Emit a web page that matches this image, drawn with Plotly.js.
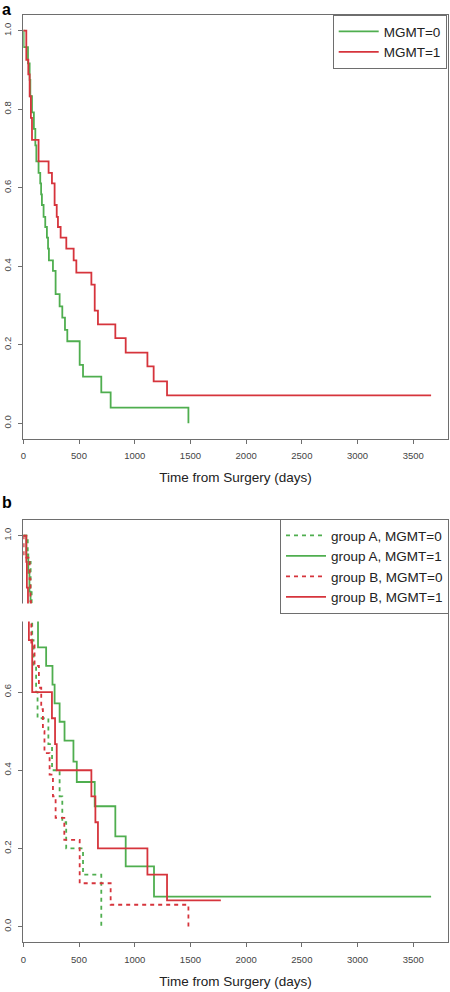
<!DOCTYPE html>
<html><head><meta charset="utf-8">
<script src="https://cdn.plot.ly/plotly-3.0.1.min.js"></script>
<style>html,body{margin:0;padding:0;background:#fff}#chart{width:450px;height:992px}</style>
</head><body><div id="chart"></div>
<script>
// ---- tick definitions ----
const xTicks = [0, 500, 1000, 1500, 2000, 2500, 3000, 3500];
const yTicks = [0, 0.2, 0.4, 0.6, 0.8, 1.0];
const yTickText = ['0.0', '0.2', '0.4', '0.6', '0.8', '1.0'];
const xTitle = 'Time from Surgery (days)';
const panelLabels = ['a', 'b'];

// ---- panel a ----
const namesA = ['MGMT=0', 'MGMT=1'];
const timeA_M0 = [0, 3, 42, 57, 63, 78, 95, 108, 117, 137, 152, 160, 167, 182, 197, 212, 222, 230, 266, 290, 326, 350, 374, 395, 506, 536, 700, 784, 1482];
const survA_M0 = [1, 0.958, 0.917, 0.875, 0.833, 0.792, 0.75, 0.708, 0.667, 0.638, 0.611, 0.583, 0.556, 0.526, 0.5, 0.473, 0.445, 0.415, 0.388, 0.329, 0.298, 0.269, 0.238, 0.209, 0.149, 0.119, 0.079, 0.040, 0];
const timeA_M1 = [0, 27, 45, 57, 68, 78, 137, 227, 257, 281, 300, 311, 335, 386, 452, 476, 611, 641, 670, 826, 919, 1114, 1170, 1290, 3660];
const survA_M1 = [1, 0.926, 0.889, 0.833, 0.778, 0.722, 0.667, 0.638, 0.611, 0.556, 0.526, 0.5, 0.473, 0.445, 0.415, 0.384, 0.353, 0.287, 0.252, 0.217, 0.180, 0.145, 0.107, 0.071, 0.071];

// ---- panel b ----
const namesB = ['group A, MGMT=0', 'group A, MGMT=1', 'group B, MGMT=0', 'group B, MGMT=1'];
const timeB_A0 = [0, 40, 66, 75, 80, 92, 115, 128, 225, 258, 326, 350, 385, 536, 700];
const survB_A0 = [1, 0.933, 0.867, 0.8, 0.733, 0.667, 0.6, 0.533, 0.467, 0.4, 0.333, 0.267, 0.2, 0.133, 0];
const timeB_A1 = [0, 27, 45, 55, 65, 132, 205, 262, 281, 326, 370, 450, 480, 641, 826, 919, 1173, 3660];
const survB_A1 = [1, 0.952, 0.905, 0.857, 0.8, 0.714, 0.667, 0.619, 0.571, 0.524, 0.476, 0.422, 0.37, 0.308, 0.231, 0.154, 0.077, 0.077];
const timeB_B0 = [0, 3, 57, 64, 68, 72, 101, 140, 161, 176, 190, 236, 266, 290, 368, 506, 784, 1482];
const survB_B0 = [1, 0.944, 0.889, 0.833, 0.778, 0.722, 0.667, 0.611, 0.556, 0.5, 0.444, 0.389, 0.333, 0.278, 0.222, 0.111, 0.056, 0];
const timeB_B1 = [0, 27, 32, 42, 50, 80, 257, 285, 300, 611, 647, 670, 1114, 1290, 1773];
const survB_B1 = [1, 0.933, 0.867, 0.8, 0.733, 0.6, 0.533, 0.467, 0.4, 0.333, 0.267, 0.2, 0.133, 0.067, 0.067];

const GREEN = '#4fae4f', RED = '#d6343c';
const FONT = 'Liberation Sans, Arial, Helvetica, sans-serif';
const W = 450, H = 992;

function step(x, y, name, color, dash, xa, ya, leg) {
  return {x: x, y: y, name: name, type: 'scatter', mode: 'lines',
    line: {shape: 'hv', color: color, width: 1.8, dash: dash},
    xaxis: xa, yaxis: ya, legend: leg, hoverinfo: 'skip'};
}

const traces = [
  step(timeA_M0, survA_M0, namesA[0], GREEN, 'solid', 'x', 'y', 'legend'),
  step(timeA_M1, survA_M1, namesA[1], RED, 'solid', 'x', 'y', 'legend'),
  step(timeB_A0, survB_A0, namesB[0], GREEN, '4px,4px', 'x2', 'y2', 'legend2'),
  step(timeB_A1, survB_A1, namesB[1], GREEN, 'solid', 'x2', 'y2', 'legend2'),
  step(timeB_B0, survB_B0, namesB[2], RED, '4px,4px', 'x2', 'y2', 'legend2'),
  step(timeB_B1, survB_B1, namesB[3], RED, 'solid', 'x2', 'y2', 'legend2')
];

const axisBase = {
  showline: true, mirror: true, linecolor: '#6e6e6e', linewidth: 1,
  ticks: 'outside', ticklen: 4, tickcolor: '#6e6e6e', tickwidth: 1,
  showgrid: false, zeroline: false, automargin: false,
  tickfont: {family: FONT, size: 9.5, color: '#444'}
};
const xDomain = [23.3 / W, 447.7 / W];
function xAxis(anchor) {
  return Object.assign({}, axisBase, {
    domain: xDomain, anchor: anchor, range: [0, 3809],
    tickvals: xTicks, ticktext: xTicks.map(String), ticklabelstandoff: 4,
    title: {text: xTitle, font: {family: FONT, size: 13.5, color: '#222'}, standoff: 12}
  });
}
function yAxis(anchor, top, bottom) {
  return Object.assign({}, axisBase, {
    domain: [1 - bottom / H, 1 - top / H], anchor: anchor, range: [-0.04, 1.04],
    tickvals: yTicks, ticktext: yTickText, tickangle: -90, ticklabelstandoff: 4
  });
}

const legendBase = {
  bgcolor: '#ffffff', bordercolor: '#6e6e6e', borderwidth: 1,
  font: {family: FONT, size: 13.5, color: '#222'},
  xanchor: 'right', yanchor: 'top', itemwidth: 40, tracegroupgap: 0
};

function panelLabel(txt, topPx) {
  return {text: '<b>' + txt + '</b>', xref: 'paper', yref: 'paper', x: 1 / W, y: 1 - topPx / H,
    xanchor: 'left', yanchor: 'top', showarrow: false, borderpad: 0,
    font: {family: FONT, size: 16, color: '#000'}};
}

const layout = {
  width: W, height: H,
  margin: {l: 0, r: 0, t: 0, b: 0},
  paper_bgcolor: '#ffffff', plot_bgcolor: '#ffffff',
  showlegend: true,
  xaxis: xAxis('y'),
  yaxis: yAxis('x', 15, 439),
  xaxis2: xAxis('y2'),
  yaxis2: yAxis('x2', 520, 942.3),
  legend: Object.assign({}, legendBase, {x: 446.7 / W, y: 1 - 15 / H}),
  legend2: Object.assign({}, legendBase, {x: 449 / W, y: 1 - 519 / H}),
  shapes: [
    {type: 'rect', xref: 'paper', yref: 'paper', layer: 'above',
     x0: 0, x1: 440 / W, y0: 1 - 621.5 / H, y1: 1 - 603.5 / H,
     fillcolor: '#ffffff', line: {width: 0}}
  ],
  annotations: [panelLabel(panelLabels[0], 0.5), panelLabel(panelLabels[1], 493)]
};

Plotly.newPlot('chart', traces, layout, {displayModeBar: false, staticPlot: true});
</script>
</body></html>
